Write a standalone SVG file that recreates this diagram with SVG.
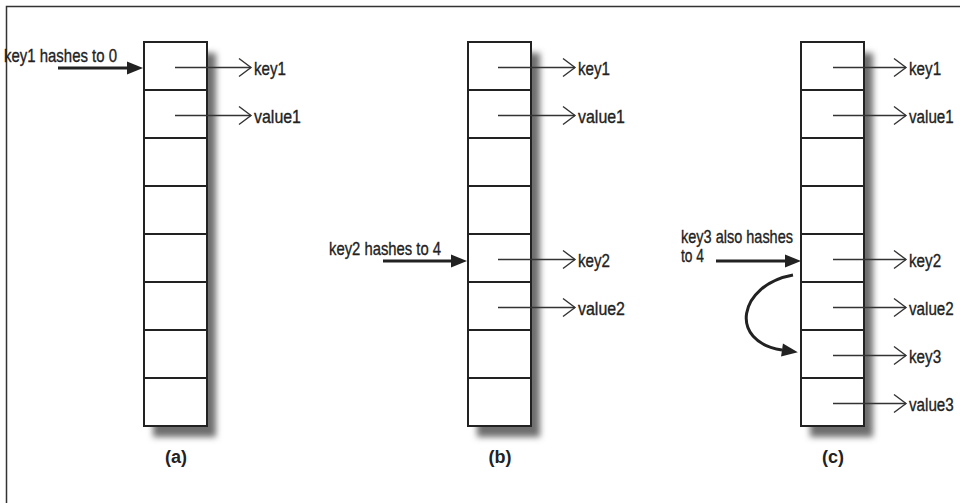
<svg xmlns="http://www.w3.org/2000/svg" width="960" height="503" viewBox="0 0 960 503">
<style>
  .cell{fill:#fff;stroke:#222;stroke-width:2}
  .shadow{fill:#6e6e6e;filter:url(#blur)}
  .t{font-family:"Liberation Sans",Arial,sans-serif;font-size:19px;fill:#222;stroke:#222;stroke-width:0.35}
  .lbl{font-family:"Liberation Sans",Arial,sans-serif;font-size:18px;font-weight:bold;fill:#222;text-anchor:middle}
  .thin{fill:none;stroke:#333;stroke-width:1.4;marker-end:url(#open)}
  .thick{fill:none;stroke:#222;stroke-width:3;marker-end:url(#solid)}
</style>
<defs>
  <filter id="blur" x="-30%" y="-10%" width="160%" height="120%">
    <feGaussianBlur stdDeviation="3"/>
  </filter>
  <marker id="open" markerUnits="userSpaceOnUse" markerWidth="14" markerHeight="20" viewBox="0 0 14 20" refX="13" refY="10" orient="auto" overflow="visible">
    <path d="M1,1 L13,10 L1,19" fill="none" stroke="#333" stroke-width="1.4"/>
  </marker>
  <marker id="solid" markerUnits="userSpaceOnUse" markerWidth="16" markerHeight="13" viewBox="0 0 16 13" refX="0" refY="6.5" orient="auto" overflow="visible">
    <path d="M0,0 L16,6.5 L0,13 z" fill="#222"/>
  </marker>
  <g id="column">
    <rect class="shadow" x="9" y="11" width="63" height="384"/>
    <rect class="cell" x="0" y="0" width="63" height="384"/>
    <path d="M0,48 H63 M0,96 H63 M0,144 H63 M0,192 H63 M0,240 H63 M0,288 H63 M0,336 H63" stroke="#222" stroke-width="2"/>
  </g>
</defs>

<rect x="6.5" y="6.5" width="1000" height="600" fill="none" stroke="#333" stroke-width="1.5"/>

<g id="table-a">
  <use href="#column" x="144" y="42"/>
  <text class="t" x="254" y="75" textLength="32" lengthAdjust="spacingAndGlyphs">key1</text>
  <text class="t" x="254" y="123" textLength="47" lengthAdjust="spacingAndGlyphs">value1</text>
  <text class="t" x="4" y="62" textLength="113" lengthAdjust="spacingAndGlyphs">key1 hashes to 0</text>
  <text class="lbl" x="176" y="463">(a)</text>
</g>

<g id="table-b">
  <use href="#column" x="468" y="42"/>
  <text class="t" x="578" y="75" textLength="32" lengthAdjust="spacingAndGlyphs">key1</text>
  <text class="t" x="578" y="123" textLength="47" lengthAdjust="spacingAndGlyphs">value1</text>
  <text class="t" x="578" y="267" textLength="32" lengthAdjust="spacingAndGlyphs">key2</text>
  <text class="t" x="578" y="315" textLength="47" lengthAdjust="spacingAndGlyphs">value2</text>
  <text class="t" x="329" y="255" textLength="112" lengthAdjust="spacingAndGlyphs">key2 hashes to 4</text>
  <text class="lbl" x="500" y="463">(b)</text>
</g>

<g id="table-c">
  <use href="#column" x="801" y="42"/>
  <text class="t" transform="translate(909,75) scale(0.8,1)">key1</text>
  <text class="t" transform="translate(909,123) scale(0.8,1)">value1</text>
  <text class="t" transform="translate(909,267) scale(0.8,1)">key2</text>
  <text class="t" transform="translate(909,315) scale(0.8,1)">value2</text>
  <text class="t" transform="translate(909,363) scale(0.8,1)">key3</text>
  <text class="t" transform="translate(909,411) scale(0.8,1)">value3</text>
  <text class="t" x="681" y="243" textLength="112" lengthAdjust="spacingAndGlyphs">key3 also hashes</text>
  <text class="t" x="681" y="262" textLength="23" lengthAdjust="spacingAndGlyphs">to 4</text>
  <text class="lbl" x="833" y="463">(c)</text>
</g>

<g id="connectors">
  <path class="thin" d="M175,67.5 H251"/>
  <path class="thin" d="M175,115.5 H251"/>
  <path class="thin" d="M498,67.5 H575"/>
  <path class="thin" d="M498,115.5 H575"/>
  <path class="thin" d="M498,259.5 H575"/>
  <path class="thin" d="M498,307.5 H575"/>
  <path class="thin" d="M833,67.5 H906"/>
  <path class="thin" d="M833,115.5 H906"/>
  <path class="thin" d="M833,259.5 H906"/>
  <path class="thin" d="M833,307.5 H906"/>
  <path class="thin" d="M833,355.5 H906"/>
  <path class="thin" d="M833,403.5 H906"/>
  <path class="thick" d="M58,68 H127"/>
  <path class="thick" d="M383,261 H451"/>
  <path class="thick" d="M716,261 H785"/>
  <path class="thick" d="M793,275 C738,285 728,342 782,350"/>
</g>
</svg>
